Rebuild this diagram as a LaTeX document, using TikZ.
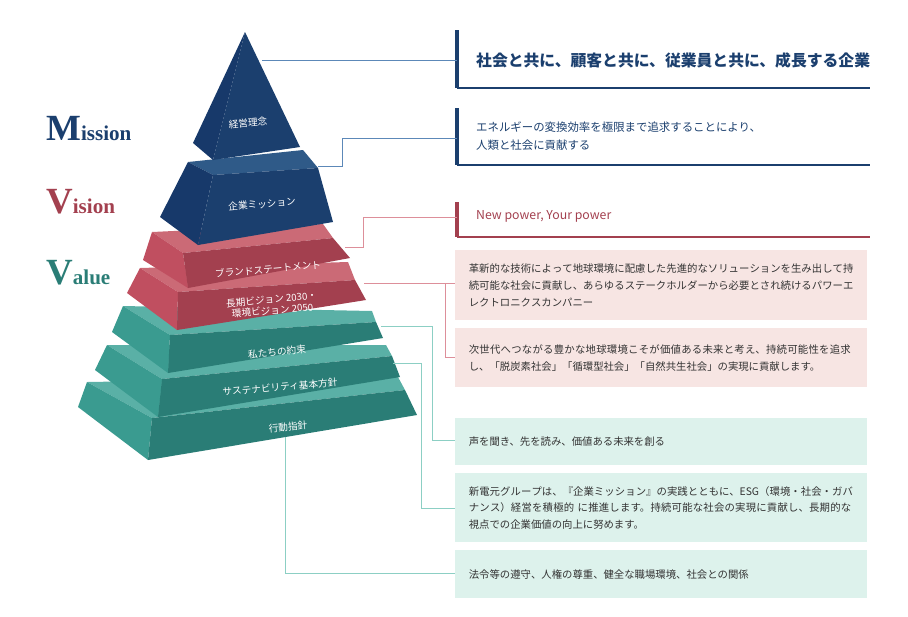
\documentclass[tikz,border=0pt]{standalone}
\usepackage{fontspec}
\setmainfont{Noto Sans CJK JP}
\newfontfamily\mvvfont{Liberation Serif}
\XeTeXlinebreaklocale "ja"
\XeTeXlinebreakskip=0pt plus 1pt
\definecolor{navyF}{HTML}{1B3F6E}
\definecolor{navyT}{HTML}{2F5A88}
\definecolor{navyL}{HTML}{17396A}
\definecolor{roseF}{HTML}{A3404F}
\definecolor{roseT}{HTML}{CB6A76}
\definecolor{roseL}{HTML}{C04F60}
\definecolor{tealF}{HTML}{2A7D76}
\definecolor{tealT}{HTML}{5AB0A6}
\definecolor{tealL}{HTML}{3A9B90}
\definecolor{roseBox}{HTML}{F7E5E3}
\definecolor{tealBox}{HTML}{DDF2EC}
\definecolor{navyLine}{HTML}{5C88B8}
\definecolor{roseLine}{HTML}{DD8F9A}
\definecolor{tealLine}{HTML}{8CCFC4}
\definecolor{ink}{HTML}{333333}

% one tier: prefix, front, top, left colour
\newcommand\tier[4]{%
  \fill[#3] (#1lbt) -- (#1rbt) -- (#1trf) -- (#1tlf) -- cycle;
  \fill[#4] (#1lbt) -- (#1tlf) -- (#1blf) -- (#1lbb) -- cycle;
  \fill[#2] (#1tlf) -- (#1trf) -- (#1brf) -- (#1blf) -- cycle;
}

\begin{document}
\begin{tikzpicture}[x=0.02cm,y=-0.02cm,
  tierlabel/.style={text=white,font=\fontsize{5.5}{6.3}\selectfont,rotate=5,align=center,inner sep=1pt},
  mvv/.style={font=\mvvfont\bfseries\fontsize{12}{14}\selectfont,anchor=base west},
  infobox/.style={anchor=north west,minimum width=8.24cm,text width=7.7cm,inner xsep=0.27cm,
    align=left,text=ink,font=\fontsize{5.9}{9.5}\selectfont},
  headtext/.style={anchor=west,align=left,font=\fontsize{6.5}{10}\selectfont,text=ink},
  link/.style={line width=0.5pt}]
\useasboundingbox (0,0) rectangle (908,616);

% tiers, bottom up
\coordinate (glbt) at (87,382); \coordinate (grbt) at (398,377); \coordinate (gtrf) at (405,390);
\coordinate (gtlf) at (152,418); \coordinate (gbrf) at (417,415); \coordinate (gblf) at (148,460);
\coordinate (glbb) at (78,407);
\tier{g}{tealF}{tealT}{tealL}
\coordinate (flbt) at (107,345); \coordinate (frbt) at (386,345); \coordinate (ftrf) at (392,356);
\coordinate (ftlf) at (162,379); \coordinate (fbrf) at (400,377); \coordinate (fblf) at (158,417);
\coordinate (flbb) at (95,370);
\tier{f}{tealF}{tealT}{tealL}
\coordinate (elbt) at (123,306); \coordinate (erbt) at (372,311); \coordinate (etrf) at (376,322);
\coordinate (etlf) at (170,335); \coordinate (ebrf) at (383,338); \coordinate (eblf) at (168,373);
\coordinate (elbb) at (112,332);
\tier{e}{tealF}{tealT}{tealL}
\coordinate (dlbt) at (140,268); \coordinate (drbt) at (348,262); \coordinate (dtrf) at (355,280);
\coordinate (dtlf) at (178,292); \coordinate (dbrf) at (366,300); \coordinate (dblf) at (177,330);
\coordinate (dlbb) at (127,293);
\tier{d}{roseF}{roseT}{roseL}
\coordinate (clbt) at (152,232); \coordinate (crbt) at (323,224); \coordinate (ctrf) at (333,238);
\coordinate (ctlf) at (183,253); \coordinate (cbrf) at (350,258); \coordinate (cblf) at (188,288);
\coordinate (clbb) at (143,260);
\tier{c}{roseF}{roseT}{roseL}
\coordinate (blbt) at (188,162); \coordinate (brbt) at (303,150); \coordinate (btrf) at (318,168);
\coordinate (btlf) at (213,175); \coordinate (bbrf) at (333,222); \coordinate (bblf) at (198,245);
\coordinate (blbb) at (160,217);
\tier{b}{navyF}{navyT}{navyL}
\coordinate (apex) at (245,32);
\fill[navyL] (apex) -- (193,143) -- (213,160) -- cycle;
\fill[navyF] (apex) -- (213,160) -- (300,147) -- cycle;

\node[tierlabel] (lphilo) at (248,123) {経営理念};
\node[tierlabel] (lmission) at (262,204) {企業ミッション};
\node[tierlabel] (lbrand) at (268,269) {ブランドステートメント};
\node[tierlabel] (lvision) at (272,305) {長期ビジョン 2030・\\環境ビジョン 2050};
\node[tierlabel] (lpromise) at (277,352) {私たちの約束};
\node[tierlabel] (lsustain) at (280,387) {サステナビリティ基本方針};
\node[tierlabel] (lconduct) at (288,427) {行動指針};

% Mission / Vision / Value
\node[mvv,text=navyF] (mmission) at (40,140) {{\fontsize{21}{22}\selectfont M}ission};
\node[mvv,text=roseF] (mvision) at (40,213) {{\fontsize{21}{22}\selectfont V}ision};
\node[mvv,text=tealF] (mvalue) at (40,284) {{\fontsize{21}{22}\selectfont V}alue};

% heading items
\draw[navyF,line width=2.4pt] (457,30) -- (457,88);
\draw[navyF,line width=0.6pt] (457,88) -- (870,88);
\node[headtext,font=\bfseries\fontsize{9}{11}\selectfont,text=navyF] (hphilo) at (470,60)
  {社会と共に、顧客と共に、従業員と共に、成長する企業};
\draw[navyF,line width=2.4pt] (457,108) -- (457,165);
\draw[navyF,line width=0.6pt] (457,165) -- (870,165);
\node[headtext,text=navyF] (hmission) at (470,136)
  {エネルギーの変換効率を極限まで追求することにより、\\人類と社会に貢献する};
\draw[roseF,line width=2.4pt] (457,202) -- (457,237);
\draw[roseF,line width=0.6pt] (457,237) -- (870,237);
\node[headtext,text=roseF,font=\fontsize{7}{9}\selectfont] (hbrand) at (470,216) {New power, Your power};

% boxes
\node[infobox,fill=roseBox,minimum height=1.4cm] (bvision) at (455,250)
  {革新的な技術によって地球環境に配慮した先進的なソリューションを生み出して持続可能な社会に貢献し、あらゆるステークホルダーから必要とされ続けるパワーエレクトロニクスカンパニー};
\node[infobox,fill=roseBox,minimum height=1.18cm] (benv) at (455,328)
  {次世代へつながる豊かな地球環境こそが価値ある未来と考え、持続可能性を追求し、「脱炭素社会」「循環型社会」「自然共生社会」の実現に貢献します。};
\node[infobox,fill=tealBox,minimum height=0.94cm] (bpromise) at (455,418)
  {声を聞き、先を読み、価値ある未来を創る};
\node[infobox,fill=tealBox,minimum height=1.38cm] (bsustain) at (455,473)
  {新電元グループは、『企業ミッション』の実践とともに、ESG（環境・社会・ガバナンス）経営を積極的 に推進します。持続可能な社会の実現に貢献し、長期的な視点での企業価値の向上に努めます。};
\node[infobox,fill=tealBox,minimum height=0.96cm] (bconduct) at (455,550)
  {法令等の遵守、人権の尊重、健全な職場環境、社会との関係};

% connectors
\draw[link,navyLine] (262,60) -- (457,60);
\draw[link,navyLine] (318,166) -- (342,166) |- (457,138);
\draw[link,roseLine] (345,247) -- (363,247) |- (457,217);
\draw[link,roseLine] (364,283) -- (bvision.west |- 0,283);
\draw[link,roseLine] (445,283) |- (benv.west |- 0,357);
\draw[link,tealLine] (381,326) -- (432,326) |- (bpromise.west |- 0,440);
\draw[link,tealLine] (393,363) -- (421,363) |- (bsustain.west |- 0,508);
\draw[link,tealLine] (285,437) |- (bconduct.west |- 0,573);
\end{tikzpicture}
\end{document}
